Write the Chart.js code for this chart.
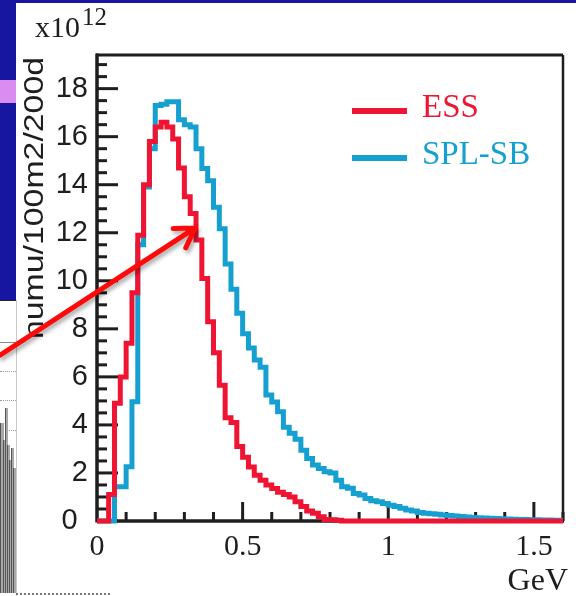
<!DOCTYPE html>
<html>
<head>
<meta charset="utf-8">
<title>numu flux: ESS vs SPL-SB</title>
<script src="https://cdn.jsdelivr.net/npm/chart.js@4.4.1/dist/chart.umd.min.js"></script>
<style>
  html, body { margin: 0; padding: 0; background: #fff; }
  #wrap { position: relative; width: 576px; height: 596px; overflow: hidden; background: #fff; }
  #fluxChart { position: absolute; left: 0; top: 0; }
  .slide { position: absolute; }
  .bar { position: absolute; bottom: 3px; background: #a8a8a8; border-left: 1px solid #555; }
  .dots { position: absolute; left: 0; width: 16px; border-top: 1px dotted #9a9a9a; }
</style>
</head>
<body>
<div id="wrap">
  <!-- bits of the slide behind the figure -->
  <div class="slide" style="left:0;top:0;width:576px;height:3px;background:#1616a0;"></div>
  <div class="slide" style="left:0;top:0;width:16px;height:300px;background:#1616a0;border-bottom:1px solid #222;"></div>
  <div class="slide" style="left:0;top:80px;width:16px;height:23px;background:#da8cf0;"></div>
  <div class="slide" style="left:0;top:342px;width:16px;height:1px;background:#8a8a8a;"></div>
  <div class="dots" style="top:371px;"></div>
  <div class="dots" style="top:400px;"></div>
  <div class="dots" style="top:430px;"></div>
  <div class="bar" style="left:0;width:3px;height:170px;"></div>
  <div class="bar" style="left:3px;width:2px;height:153px;"></div>
  <div class="bar" style="left:5px;width:2px;height:185px;"></div>
  <div class="bar" style="left:7px;width:2px;height:148px;"></div>
  <div class="bar" style="left:9px;width:2px;height:133px;"></div>
  <div class="bar" style="left:11px;width:2px;height:145px;"></div>
  <div class="bar" style="left:13px;width:3px;height:125px;"></div>
  <div class="slide" style="left:16px;top:300px;width:1px;height:296px;background:#c8c8c8;"></div>
  <div class="slide" style="left:16px;top:593px;width:94px;height:0;border-top:2px dotted #777;"></div>
  <canvas id="fluxChart" width="576" height="596"></canvas>
</div>
<script>
// histogram binning (GeV)
const BIN_WIDTH = 0.02;
const X_MAX = 1.6;
const Y_MAX = 19.4;

// numu per 100 m2 per 200 days, in units of 1e12, one value per 0.02 GeV bin
const essCounts = [
  0, 0, 1.1, 4.9, 6.0, 7.4, 9.5, 11.9, 14.0, 15.8,
  16.4, 16.6, 16.4, 15.9, 14.7, 13.5, 12.8, 11.7, 10.1, 8.3,
  7.0, 5.65, 4.3, 4.1, 3.1, 2.65, 2.25, 1.9, 1.7, 1.5,
  1.35, 1.2, 1.1, 1.0, 0.8, 0.6, 0.42, 0.32, 0.18, 0.06,
  0.05, 0.03, 0, 0, 0, 0, 0, 0, 0, 0,
  0, 0, 0, 0, 0, 0, 0, 0, 0, 0,
  0, 0, 0, 0, 0, 0, 0, 0, 0, 0,
  0, 0, 0, 0, 0, 0, 0, 0, 0, 0
];
const splCounts = [
  0, 0, 0, 1.43, 1.43, 2.26, 4.96, 11.5, 13.9, 15.5,
  17.3, 17.35, 17.45, 17.45, 16.7, 16.5, 16.4, 15.5, 14.67, 14.17,
  13.06, 12.17, 10.7, 9.65, 8.65, 7.8, 7.2, 6.7, 6.4, 5.25,
  4.95, 4.55, 3.9, 3.65, 3.4, 2.95, 2.6, 2.33, 2.19, 2.05,
  2.0, 1.7, 1.43, 1.36, 1.15, 1.08, 0.94, 0.84, 0.8, 0.73,
  0.66, 0.6, 0.53, 0.46, 0.42, 0.35, 0.32, 0.3, 0.28, 0.25,
  0.23, 0.21, 0.19, 0.17, 0.15, 0.14, 0.12, 0.11, 0.1, 0.09,
  0.08, 0.07, 0.06, 0.06, 0.05, 0.05, 0.04, 0.04, 0.03, 0.03
];

const xTickValues = [0, 0.5, 1, 1.5];
const yTickValues = [0, 2, 4, 6, 8, 10, 12, 14, 16, 18];

const yTitle = 'numu/100m2/200d';
const xTitle = 'GeV';

const essColor = '#ee1432';
const splColor = '#16a0d2';
const inkColor = '#1e1e1e';

// bin left edges + closing point at the upper range, drawn as a step line
function toSteps(counts) {
  const pts = counts.map((v, i) => ({ x: +(i * BIN_WIDTH).toFixed(2), y: v }));
  pts.push({ x: X_MAX, y: counts[counts.length - 1] });
  return pts;
}

function seg(ctx, x1, y1, x2, y2) {
  ctx.beginPath();
  ctx.moveTo(x1, y1);
  ctx.lineTo(x2, y2);
  ctx.stroke();
}

// ROOT style frame with ticks pointing into the pad
const frameAndTicks = {
  id: 'frameAndTicks',
  beforeDatasetsDraw(chart) {
    const { ctx, chartArea: a, scales: { x, y } } = chart;
    ctx.save();
    ctx.strokeStyle = inkColor;
    ctx.lineCap = 'butt';

    ctx.lineWidth = 3;
    for (let i = 0; i * 0.5 <= Y_MAX + 1e-9; i++) {
      const py = y.getPixelForValue(i * 0.5);
      seg(ctx, a.left, py, a.left + (i % 4 === 0 ? 21 : 10), py);
    }
    for (let i = 1; i * 0.1 <= X_MAX + 1e-9; i++) {
      const px = x.getPixelForValue(i * 0.1);
      seg(ctx, px, a.bottom, px, a.bottom - (i % 5 === 0 ? 19 : 9));
    }

    ctx.lineWidth = 3;
    seg(ctx, a.left - 1, a.top, a.right, a.top);
    ctx.lineWidth = 2.5;
    seg(ctx, a.right, a.top, a.right, a.bottom);
    ctx.lineWidth = 3.5;
    seg(ctx, a.left, a.top - 1.5, a.left, a.bottom + 1.5);
    seg(ctx, a.left, a.bottom, a.right + 1, a.bottom);
    ctx.restore();
  },
  afterDraw(chart) {
    const { ctx, chartArea: a, scales: { x, y } } = chart;
    ctx.save();

    // common exponent
    ctx.fillStyle = inkColor;
    ctx.textBaseline = 'alphabetic';
    ctx.textAlign = 'left';
    ctx.font = '30px "Liberation Serif"';
    ctx.fillText('x10', 35, 37);
    ctx.font = '25px "Liberation Serif"';
    ctx.fillText('12', 82, 25);

    // axis titles
    ctx.save();
    ctx.translate(43, 198);
    ctx.rotate(-Math.PI / 2);
    ctx.font = '28px "Liberation Sans"';
    const w = ctx.measureText(yTitle).width;
    ctx.scale(282 / w, 1);
    ctx.textAlign = 'center';
    ctx.fillText(yTitle, 0, 0);
    ctx.restore();

    ctx.font = '32px "Liberation Serif"';
    ctx.textAlign = 'right';
    ctx.fillText(xTitle, 568, 590);

    // legend
    chart.data.datasets.forEach((ds, i) => {
      const ly = 111 + i * 47;
      ctx.strokeStyle = ds.borderColor;
      ctx.lineWidth = 6;
      seg(ctx, 352, ly, 407, ly);
      ctx.fillStyle = ds.borderColor;
      ctx.font = '33px "Liberation Serif"';
      ctx.textAlign = 'left';
      ctx.fillText(ds.label, 422, ly + 6);
    });

    // slide arrow pointing at the ESS curve
    const tipX = x.getPixelForValue(0.337), tipY = y.getPixelForValue(12.2);
    const tailX = x.getPixelForValue(-0.333), tailY = y.getPixelForValue(6.9);
    const ang = Math.atan2(tailY - tipY, tailX - tipX);
    ctx.shadowColor = 'rgba(0,0,0,0.35)';
    ctx.shadowBlur = 4;
    ctx.shadowOffsetX = 2;
    ctx.shadowOffsetY = 3;
    ctx.strokeStyle = '#ff0a0a';
    ctx.lineWidth = 5;
    ctx.lineCap = 'round';
    ctx.lineJoin = 'round';
    ctx.beginPath();
    ctx.moveTo(tailX, tailY);
    ctx.lineTo(tipX, tipY);
    ctx.moveTo(tipX + 22 * Math.cos(ang + 0.55), tipY + 22 * Math.sin(ang + 0.55));
    ctx.lineTo(tipX, tipY);
    ctx.lineTo(tipX + 22 * Math.cos(ang - 0.55), tipY + 22 * Math.sin(ang - 0.55));
    ctx.stroke();

    ctx.restore();
  }
};

const ctx = document.getElementById('fluxChart').getContext('2d');

const fluxChart = new Chart(ctx, {
  type: 'line',
  data: {
    datasets: [{
      label: 'ESS',
      data: toSteps(essCounts),
      borderColor: essColor,
      borderWidth: 5,
      stepped: 'before',
      pointRadius: 0,
      fill: false,
      clip: false,
      borderCapStyle: 'butt',
      borderJoinStyle: 'miter'
    }, {
      label: 'SPL-SB',
      data: toSteps(splCounts),
      borderColor: splColor,
      borderWidth: 5,
      stepped: 'before',
      pointRadius: 0,
      fill: false,
      clip: false,
      borderCapStyle: 'butt',
      borderJoinStyle: 'miter'
    }]
  },
  options: {
    responsive: false,
    animation: false,
    devicePixelRatio: 1,
    events: [],
    layout: { padding: { left: 0, top: 55, right: 13, bottom: 0 } },
    plugins: {
      legend: { display: false },
      tooltip: { enabled: false }
    },
    scales: {
      x: {
        type: 'linear',
        min: 0,
        max: X_MAX,
        grid: { display: false, drawTicks: false },
        border: { display: false },
        afterFit: scale => { scale.height = 75; },
        afterBuildTicks: scale => { scale.ticks = xTickValues.map(v => ({ value: v })); },
        ticks: {
          padding: 8,
          maxRotation: 0,
          autoSkip: false,
          color: inkColor,
          font: { family: 'Liberation Serif', size: 30 },
          callback: v => String(v)
        }
      },
      y: {
        type: 'linear',
        min: 0,
        max: Y_MAX,
        grid: { display: false, drawTicks: false },
        border: { display: false },
        afterFit: scale => { scale.width = 97; },
        afterBuildTicks: scale => { scale.ticks = yTickValues.map(v => ({ value: v })); },
        ticks: {
          padding: 9,
          autoSkip: false,
          color: inkColor,
          font: { family: 'Liberation Sans', size: 29 },
          callback: v => (v === 0 ? '0 \u200A' : String(v))
        }
      }
    }
  },
  plugins: [frameAndTicks]
});
</script>
</body>
</html>
